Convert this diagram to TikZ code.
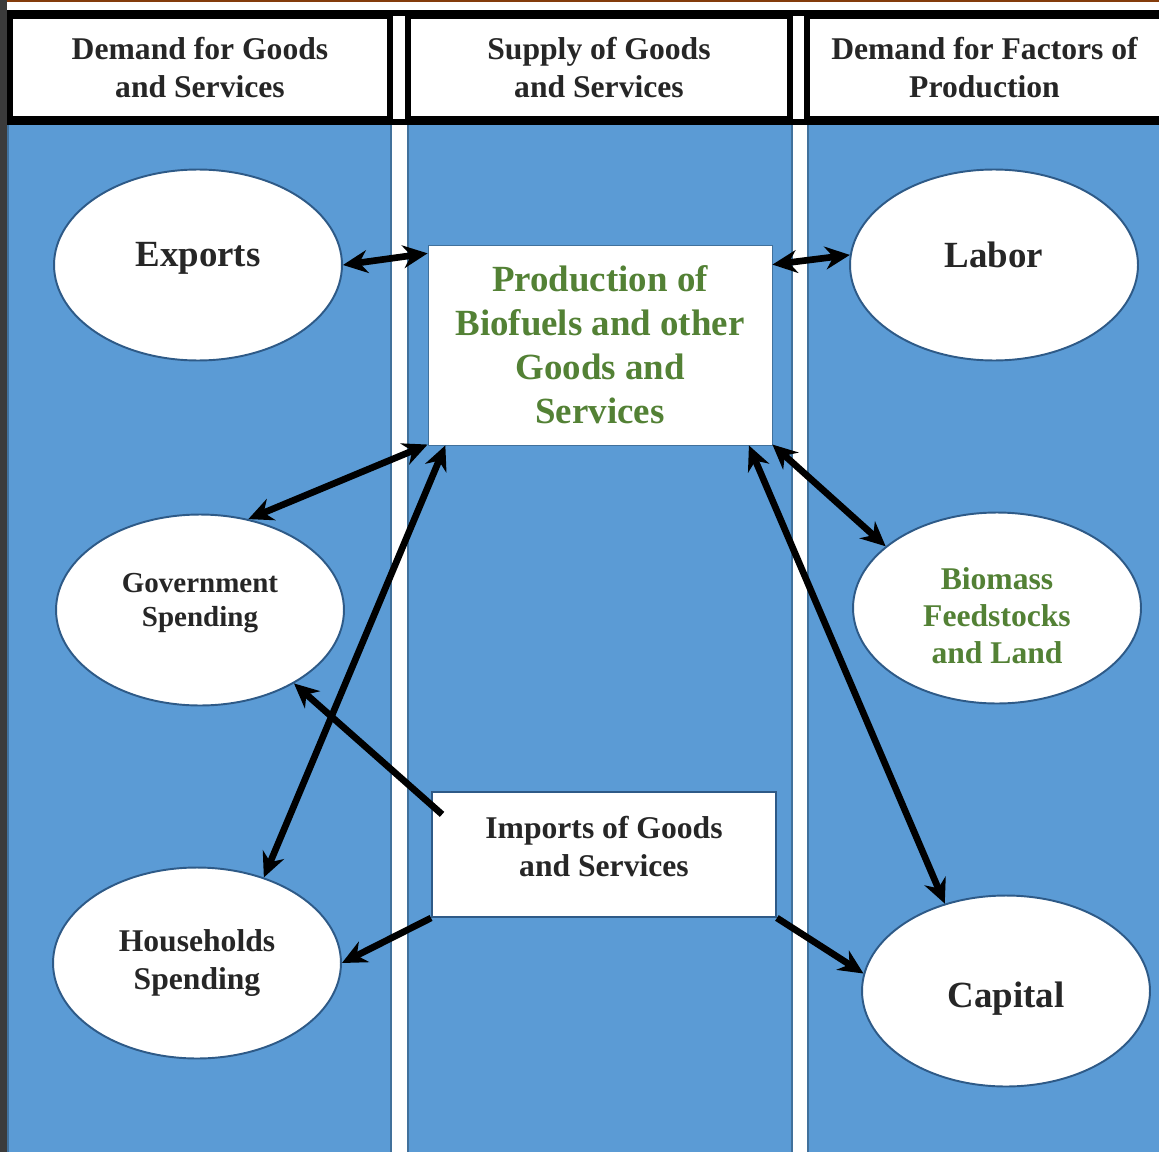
\documentclass[tikz,border=0pt]{standalone}
\usepackage{fontspec}
\setmainfont{Liberation Serif}
\usetikzlibrary{shapes.geometric,arrows.meta}
\definecolor{colblue}{HTML}{5B9BD5}
\definecolor{colline}{HTML}{41719C}
\definecolor{ovalline}{HTML}{2E5A87}
\definecolor{biogreen}{HTML}{538135}
\definecolor{inktext}{HTML}{262626}
\definecolor{rust}{HTML}{843C0C}
\definecolor{darkstrip}{HTML}{3B3B3B}

\begin{document}
\begin{tikzpicture}[x=0.02cm, y=-0.02cm, >={Stealth[length=14pt,width=13pt]},
	every oval/.style={ellipse, draw=ovalline, line width=1.1pt, fill=white, minimum width=5.76cm, minimum height=3.82cm, inner sep=0pt, align=center, text=inktext},
	every head/.style={draw=black, line width=3.4pt, fill=white, minimum height=2.06cm, align=center, text=inktext, font=\bfseries\fontsize{18}{21.5}\selectfont},
	every box/.style={fill=white, minimum width=6.88cm, align=center},
	flow/.style={line width=3.8pt}]

\useasboundingbox (0,0) rectangle (1159,1152);
\fill[white] (0,0) rectangle (1159,1152);
\fill[darkstrip] (0,0) rectangle (7,1152);
\fill[rust] (7,0) rectangle (1159,2.5);

%columns
\foreach \a/\b in {8/391,408/792,808/1165}
	\draw[colline, fill=colblue, line width=0.8pt] (\a,123) rectangle (\b,1160);

%header boxes
\node [every head/.try, minimum width=7.6cm] (head-demand) at (200,67.5) {Demand for Goods\\and Services};
\node [every head/.try, minimum width=7.64cm] (head-supply) at (599,67.5) {Supply of Goods\\and Services};
\node [every head/.try, minimum width=7.1cm] (head-factors) at (984.5,67.5) {Demand for Factors of\\Production};
\draw [line width=3.4pt] (head-demand.north west) -- (head-factors.north east);
\draw [line width=3.4pt] (head-demand.south west) -- (head-factors.south east);

%ovals
\node [every oval/.try, text depth=12.6pt, font=\bfseries\fontsize{21}{25}\selectfont] (exports) at (198,265) {Exports};
\node [every oval/.try, text depth=11pt, font=\bfseries\fontsize{16.5}{19.3}\selectfont] (gov) at (200,610) {Government\\Spending};
\node [every oval/.try, font=\bfseries\fontsize{18}{21.5}\selectfont] (households) at (197,963) {Households\\Spending};
\node [every oval/.try, text depth=11.4pt, font=\bfseries\fontsize{21}{25}\selectfont] (labor) at (994,265) {Labor};
\node [every oval/.try, text height=63pt, text=biogreen, font=\bfseries\fontsize{18}{21}\selectfont] (biomass) at (997,608) {Biomass\\Feedstocks\\and Land};
\node [every oval/.try, text height=23.3pt, font=\bfseries\fontsize{21}{25}\selectfont] (capital) at (1006,991) {Capital};

%middle boxes
\node [every box/.try, draw=colline, line width=0.5pt, minimum height=4cm, text=biogreen, font=\bfseries\fontsize{21}{25}\selectfont] (prod) at (600,345) {Production of\\Biofuels and other\\Goods and\\Services};
\node [every box/.try, draw=ovalline, line width=1.1pt, minimum height=2.5cm, text depth=9pt, text=inktext, font=\bfseries\fontsize{18}{21.5}\selectfont] (imports) at (604,854.5) {Imports of Goods\\and Services};

%drawing part
\draw [flow, <->] (exports.east) -- (prod.152);
\draw [flow, <->] (prod.25) -- (labor.176);
\draw [flow, <->] (prod.210) -- (gov.62);
\draw [flow, <->] (prod.213) -- (households.52);
\draw [flow, <->] (prod.330) -- (biomass.151);
\draw [flow, <->] (prod.326) -- (capital.125);
\draw [flow, ->] ([shift={(11,3)}]imports.166) -- (gov.-38);
\draw [flow, ->] (imports.south west) -- (households.east);
\draw [flow, ->] (imports.south east) -- (capital.173);

\end{tikzpicture}
\end{document}
